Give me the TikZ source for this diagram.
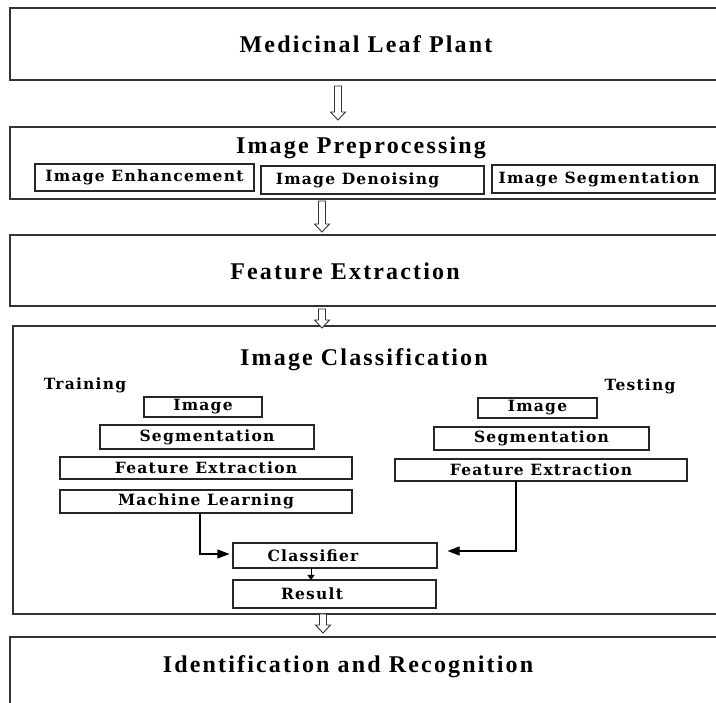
\documentclass[tikz,border=0pt]{standalone}
\usepackage{fontspec}
\setmainfont{Liberation Serif}
\newfontfamily\titfont[LetterSpace=9]{Liberation Serif}
\newfontfamily\labfont[LetterSpace=8]{DejaVu Serif}
\usetikzlibrary{arrows.meta}
\tikzset{
  bigbox/.style={draw=black!80, line width=1.4pt, minimum width=710pt, inner sep=0pt},
  smallbox/.style={draw=black!85, line width=1.1pt, inner sep=0pt, font=\labfont\bfseries\fontsize{15.5}{17}\selectfont},
  titletext/.style={font=\titfont\bfseries\fontsize{24}{27}\selectfont, inner sep=0pt},
  sidetext/.style={font=\labfont\bfseries\fontsize{15.5}{17}\selectfont, inner sep=0pt},
  conn/.style={line width=1.1pt, -{Triangle[length=12pt,width=9pt]}},
  hollow/.style={draw=black!80, line width=0.9pt, fill=white}
}
\newcommand{\holarrow}[3]{% x, ytop, ybot
  \draw[hollow] (#1-3.5,#2) -- (#1+3.5,#2) -- (#1+3.5,#3-8) -- (#1+7.5,#3-8) -- (#1,#3) -- (#1-7.5,#3-8) -- (#1-3.5,#3-8) -- cycle;}
\begin{document}
\begin{tikzpicture}[x=1pt,y=-1pt]
\useasboundingbox (0,0) rectangle (716,703);
\clip (0,0) rectangle (716,703);
\fill[white] (0,0) rectangle (716,703);

% Box 1
\node[bigbox, minimum height=72pt] (b1) at (365,44) {};
\node[titletext] (t1) at (366,44) {Medicinal Leaf Plant};

% Box 2
\node[bigbox, minimum height=72pt] (b2) at (365,163) {};
\node[titletext] (t2) at (361,148) {Image Preprocessing};
\node[smallbox, minimum width=219pt, minimum height=27pt] (enh) at (144.5,177.5) {Image Enhancement};
\node[smallbox, minimum width=223pt, minimum height=28pt] (den) at (372.5,180) {\hspace*{-30pt}Image Denoising};
\node[smallbox, minimum width=223pt, minimum height=28pt] (seg) at (603.5,179) {\hspace*{-9pt}Image Segmentation};

% Box 3
\node[bigbox, minimum height=71pt] (b3) at (365,270.5) {};
\node[titletext] (t3) at (345,271) {Feature Extraction};

% Box 4
\node[bigbox, minimum height=288pt, minimum width=706pt] (b4) at (366,470) {};
\node[titletext] (t4) at (364,360) {Image Classification};
\node[sidetext] (tr) at (85,385) {Training};
\node[sidetext] (te) at (640,386) {Testing};

\node[smallbox, minimum width=118pt, minimum height=20pt] (i1) at (203,407) {Image};
\node[smallbox, minimum width=214pt, minimum height=24pt] (s1) at (207,437) {Segmentation};
\node[smallbox, minimum width=292pt, minimum height=22pt] (f1) at (206,468) {Feature Extraction};
\node[smallbox, minimum width=292pt, minimum height=23pt] (m1) at (206,501.5) {Machine Learning};

\node[smallbox, minimum width=119pt, minimum height=20pt] (i2) at (537.5,408) {Image};
\node[smallbox, minimum width=215pt, minimum height=23pt] (s2) at (541.5,438.5) {Segmentation};
\node[smallbox, minimum width=292pt, minimum height=22pt] (f2) at (541,470) {Feature Extraction};

\node[smallbox, minimum width=204pt, minimum height=25pt] (cl) at (335,555.5) {\hspace*{-44pt}Classifier};
\node[smallbox, minimum width=203pt, minimum height=28pt] (re) at (334.5,594) {\hspace*{-45pt}Result};

\coordinate (mlb) at (200,513);
\coordinate (f2b) at (516,481);
\draw[conn] (mlb) |- ([yshift=1.5pt,xshift=-3pt]cl.west);
\draw[conn] (f2b) |- ([yshift=4.5pt,xshift=10pt]cl.east);
\coordinate (cb) at (311,568);
\coordinate (rt) at (311,580);
\draw[line width=0.9pt, -{Triangle[length=5pt,width=7pt]}] (cb) -- (rt);

% Box 5
\node[bigbox, minimum height=90pt] (b5) at (365,682) {};
\node[titletext] (t5) at (348,667) {Identification and Recognition};

% hollow arrows
\holarrow{338}{86}{120}
\holarrow{322}{201}{232}
\holarrow{322}{309}{328}
\holarrow{323}{614}{633}
\end{tikzpicture}
\end{document}
